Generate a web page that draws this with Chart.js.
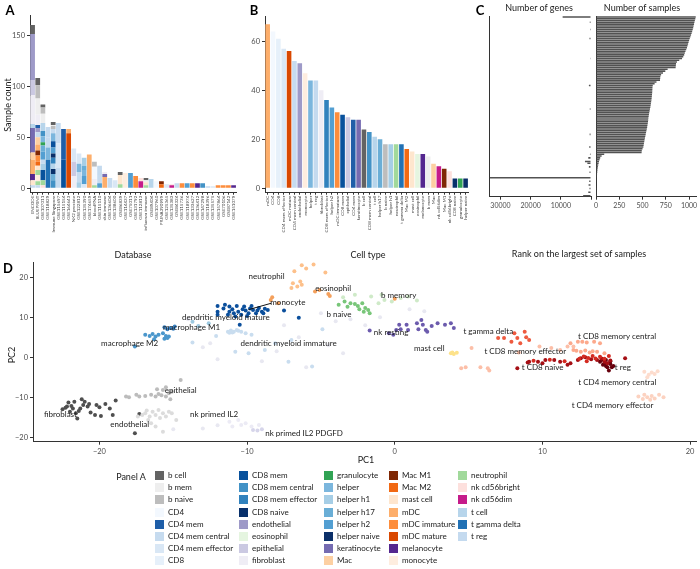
<!DOCTYPE html>
<html>
<head>
<meta charset="utf-8">
<script src="https://cdn.jsdelivr.net/npm/chart.js@4.4.1/dist/chart.umd.min.js"></script>
<style>
  body { margin:0; background:#fff; font-family: Lato, "Open Sans", sans-serif; }
  #page { position:relative; width:700px; height:569px; overflow:hidden; }
  .box { position:absolute; }
  .txt { position:absolute; white-space:nowrap; color:#1a1a1a; font-size:9px; transform:translate(-50%,-50%); }
  .tag { font-weight:bold; font-size:13px; color:#000; }
  .rot { transform:translate(-50%,-50%) rotate(-90deg); }
  .sw { position:absolute; width:9px; height:9px; }
  .lg { position:absolute; font-size:8px; line-height:9px; color:#1a1a1a; white-space:nowrap; }
</style>
</head>
<body>
<div id="page">
  <div class="box" style="left:0;top:0;width:240px;height:262px"><canvas id="cA"></canvas></div>
  <div class="box" style="left:240px;top:0;width:232px;height:262px"><canvas id="cB"></canvas></div>
  <div class="box" style="left:460px;top:0;width:133px;height:262px"><canvas id="cC1"></canvas></div>
  <div class="box" style="left:592px;top:0;width:108px;height:262px"><canvas id="cC2"></canvas></div>
  <div class="box" style="left:0;top:255px;width:700px;height:214px"><canvas id="cD"></canvas></div>

  <div class="txt tag" style="left:10px;top:10px">A</div>
  <div class="txt tag" style="left:254px;top:10px">B</div>
  <div class="txt tag" style="left:480px;top:10px">C</div>
  <div class="txt tag" style="left:8px;top:268px">D</div>

  <div class="txt rot" style="left:7px;top:105px">Sample count</div>
  <div class="txt" style="left:133px;top:254px">Database</div>
  <div class="txt" style="left:368px;top:254px">Cell type</div>
  <div class="txt" style="left:539px;top:7px">Number of genes</div>
  <div class="txt" style="left:642px;top:7px">Number of samples</div>
  <div class="txt" style="left:579px;top:253px">Rank on the largest set of samples</div>
  <div class="txt" style="left:366px;top:459px">PC1</div>
  <div class="txt rot" style="left:11px;top:355px">PC2</div>
  <div class="txt" style="left:131px;top:476px">Panel A</div>
  <div id="legend"></div>
</div>

<script>
// cell types (legend order) and their colours
const cellTypes = ['b cell','b mem','b naive','CD4','CD4 mem','CD4 mem central','CD4 mem effector','CD8',
  'CD8 mem','CD8 mem central','CD8 mem effector','CD8 naive','endothelial','eosinophil','epithelial','fibroblast',
  'granulocyte','helper','helper h1','helper h17','helper h2','helper naive','keratinocyte','Mac',
  'Mac M1','Mac M2','mast cell','mDC','mDC immature','mDC mature','melanocyte','monocyte',
  'neutrophil','nk cd56bright','nk cd56dim','t cell','t gamma delta','t reg'];
const cellColors = ['#636363','#eeeeee','#bdbdbd','#f3f8fe','#1f5ea8','#c6dbef','#d9e7f5','#e6f0fa',
  '#08519c','#4292c6','#3182bd','#08306b','#9e9ac8','#e5f5e0','#cbc9e2','#efedf5',
  '#31a354','#7bb6dd','#a6cee6','#6aaed6','#539fd2','#0b2f69','#756bb1','#fdd0a2',
  '#7f2704','#f16913','#fee6ce','#fdae6b','#fd8d3c','#d94801','#54278f','#feeddf',
  '#a1d99b','#fde0dd','#c51b8a','#b7d5eb','#2171b5','#c4daef'];

// panel A : samples per database, stacked by cell type (bottom -> top)
const dbNames = ['ENCODE','BLUEPRINT','GSE107011','GSE118829','Immune Singapore','GSE115697','GSE115154','GSE164643',
  'NK2 prostate','GSE122812','GSE135390','GSE174659','bloodRNA','GSE115110','skin immune','GSE136604',
  'GSE138600','GSE86839','GSE114437','GSE75011','GSE131792','GSE112813','influenza immune','GSE89404',
  'GSE107960','PRJNA390999','GSE125365','GSE135383','GSE84324','GSE115736','GSE118974','GSE133627',
  'GSE136412','GSE147298','GSE118396','GSE135575','GSE157864','GSE70106','GSE87142','GSE151079'];
const dbStacks = [
  [['t reg',3],['mast cell',5],['melanocyte',6],['mDC',14],['Mac',7],['keratinocyte',24],['t cell',4],['fibroblast',28],['epithelial',15],['endothelial',45],['b cell',9]],
  [['t reg',3],['neutrophil',4],['monocyte',6],['neutrophil',5],['mast cell',4],['Mac M2',4],['mDC immature',6],['Mac M1',5],['mDC',6],['Mac',7],['CD4 mem central',5],['endothelial',4],['CD4 mem',3],['fibroblast',10],['b mem',16],['b naive',13],['b cell',7]],
  [['nk cd56bright',3],['neutrophil',5],['CD8 mem',10],['helper h1',6],['CD4 mem central',4],['helper h2',8],['helper h17',6],['granulocyte',3],['helper',6],['CD8 mem central',5],['t cell',8],['b mem',9],['b naive',6],['b cell',3]],
  [['t gamma delta',28],['helper',12],['CD4 mem central',10],['t reg',10]],
  [['CD8 mem central',8],['helper h17',6],['CD8 naive',5],['t cell',5],['CD8 mem effector',6],['helper naive',4],['helper h2',6],['CD8 mem',6],['helper',8],['CD4 mem central',4],['b naive',3],['b mem',1],['b cell',3]],
  [['t reg',20],['CD4 mem effector',24],['CD4 mem central',20]],
  [['CD8 mem',28],['CD4 mem',30]],
  [['mDC mature',54],['mDC',4]],
  [['fibroblast',12],['epithelial',14],['CD4 mem effector',13]],
  [['helper h1',6],['t reg',10],['helper',8],['CD4 mem effector',10]],
  [['CD4 mem effector',4],['helper h2',8],['helper',6],['helper h17',4],['helper h1',8]],
  [['mDC',33]],
  [['neutrophil',3],['fibroblast',6],['CD4',12],['b naive',5]],
  [['helper h2',5],['CD4 mem central',8],['t reg',9]],
  [['mDC',11],['keratinocyte',3],['fibroblast',2]],
  [['CD4 mem central',10]],
  [['CD4 mem effector',8]],
  [['neutrophil',4],['mast cell',9],['b cell',3]],
  [['monocyte',15]],
  [['helper h2',15]],
  [['mDC immature',12]],
  [['nk cd56dim',7],['nk cd56bright',3]],
  [['neutrophil',3],['mast cell',3],['b mem',2],['b cell',2]],
  [['t cell',9]],
  [['CD4',7]],
  [['Mac M2',4],['Mac M1',3]],
  [['CD4 mem effector',4]],
  [['nk cd56dim',3],['nk cd56bright',1]],
  [['CD4 mem central',5]],
  [['mDC immature',5]],
  [['helper h2',5]],
  [['mDC immature',5]],
  [['melanocyte',5]],
  [['CD8 mem central',5]],
  [['t reg',2]],
  [['CD4 mem effector',2]],
  [['mDC immature',3]],
  [['mDC immature',3]],
  [['mDC immature',3]],
  [['melanocyte',3]]
];
const aTicks = [0, 50, 100, 150];

// panel B : samples per cell type
const bTypes = ['mDC','CD4','CD8','CD4 mem effector','mDC mature','CD4 mem central','endothelial','monocyte',
  'helper','t reg','fibroblast','CD8 mem effector','helper h2','mDC immature','CD8 mem','epithelial',
  'CD4 mem','keratinocyte','b cell','CD8 mem central','t cell','helper h17','b naive','helper h1',
  'neutrophil','t gamma delta','Mac M2','mast cell','eosinophil','melanocyte','b mem','Mac',
  'nk cd56dim','Mac M1','nk cd56bright','CD8 naive','granulocyte','helper naive'];
const bCounts = [67,64,61,57,56,52,51,47, 44,44,40,36,33,31,30,29, 28,28,24,23,21,20,18,18, 18,18,16,15,14,14,13,10, 9,8,7,4,4,4];
const bTicks = [0, 20, 40, 60];

// panel C : genes / samples by rank
const sampleCounts = [1072,1068,1063,1058,1054,1049,1045,1040,1034,1028,
  1022,1015,1008,1001,995,990,984,978,970,962,
  955,948,938,925,895,870,860,858,856,770,
  745,720,700,692,690,688,650,630,610,607,
  606,605,604,602,600,598,596,593,590,587,
  584,580,576,572,569,566,563,561,559,556,
  553,550,546,542,538,534,530,526,522,519,
  515,512,509,500,492,490,88,60,45,38,
  32,28,24,20,17,15,13,11,10,8,
  7,6,5,5,4,3,3,2,2,1];
const geneCounts = [9400,0,0,400,0,0,0,300,0,0,
  0,0,500,0,0,0,0,0,0,0,
  0,0,0,250,0,0,0,0,0,0,
  0,0,0,0,0,0,0,0,700,0,
  0,0,0,0,0,0,0,0,0,0,
  0,400,0,0,0,0,0,0,0,0,
  0,0,0,0,0,450,0,0,0,0,
  0,0,600,0,0,0,350,0,900,0,
  2000,1200,0,700,0,0,500,0,0,33500,
  0,600,0,800,0,500,0,900,0,2600];
const geneTicks = [0, 10000, 20000, 30000];
const sampleTicks = [0, 250, 500, 750, 1000];

// panel D : PCA coordinates [PC1, PC2]
const ptsOther = [[-13,2.5],[-12,-0.5],[-9,-1],[-8,1.5],[-6,-2.5],[-4.5,3],[-3,9.5],[-2,8],[-5,11],[-4,9],[-14,9.5],
  [-15,-18],[-13,-17.8],[-12,-17],[1,12],[2,11.5],[-1,10],[-6.5,5],[-3.5,1],[-12.5,3.5],[-7.5,8]];
const ptsNkIL2 = [[-11.2,-16.1],[-10.6,-15.7],[-10.1,-16.5],[-9.7,-17.3],[-9.2,-16.9],[-11.0,-17.3],[-10.4,-16.9]];
const ptsNkIL2Pdgfd = [[-9.6,-18.2],[-9.0,-18.0],[-9.3,-18.3]];
const ptsEndothelial = [[-17.4,-14.8],[-17.1,-14.4],[-16.9,-14.0],[-16.6,-14.8],[-16.4,-13.6],[-16.2,-14.4],[-16.0,-13.2],[-15.7,-14.0],
  [-15.5,-14.8],[-15.3,-13.6],[-15.1,-14.0],[-14.8,-15.7],[-15.7,-18.6],[-16.5,-16.5],[-16.7,-15.7],[-16.2,-17.3],[-15.9,-15.2],[-16.8,-13.3]];
const ptsEpithelial = [[-18.2,-9.8],[-18.0,-10.0],[-17.5,-9.4],[-17.3,-9.8],[-16.9,-9.7],[-16.5,-9.4],[-16.2,-9.8],[-16.0,-9.2],[-15.7,-8.2],
  [-15.5,-9.8],[-15.3,-9.0],[-15.1,-8.6],[-14.5,-5.7],[-15.5,-7.5],[-16.1,-8.0],[-15.2,-10.5],[-15.8,-9.5]];
const ptsFibroblast = [[-22.5,-13.0],[-22.2,-12.3],[-22.1,-11.3],[-21.9,-12.2],[-21.8,-12.8],[-21.7,-11.1],[-21.6,-14.0],[-21.5,-15.3],
  [-21.3,-12.8],[-21.2,-10.5],[-21.0,-11.1],[-20.7,-11.7],[-20.6,-13.8],[-20.3,-14.4],[-20.2,-11.9],[-20.0,-12.5],[-19.9,-14.7],
  [-19.6,-11.7],[-19.3,-12.8],[-19.1,-14.4],[-18.9,-10.8],[-22.0,-13.6],[-21.1,-11.9],[-20.8,-12.3],[-17.6,-19.0],[-17.3,-14.2],
  [-22.3,-12.6],[-21.4,-13.4]];
const ptsDcImmature = [[-11.3,6.4],[-11.1,6.7],[-10.9,6.4],[-10.7,6.8],[-10.4,6.4],[-11.0,6.2],[-10.1,6.0],[-9.7,5.6],[-12.1,5.3],
  [-13.7,3.7],[-10.8,1.4],[-9.9,1.0],[-8.8,1.8],[-7.2,-1.1],[-5.6,-2.3],[-4.9,7.0],[-8.1,3.5],[-7.0,4.3],[-10.6,6.6],[-11.2,6.1]];
const ptsDcMature = [[-13.7,8.9],[-13.3,7.8],[-12.6,8.5]];
const ptsMacM1 = [[-15.6,7.5],[-15.4,7.0],[-15.2,7.3],[-14.9,7.7],[-15.0,7.1]];
const ptsMacM2 = [[-16.9,5.6],[-16.6,5.3],[-16.4,5.8],[-16.2,5.2],[-16.0,5.6],[-15.7,6.0],[-15.5,5.3],[-15.4,4.8],[-15.3,5.2],
  [-17.6,2.7],[-16.3,4.5],[-15.6,4.6]];
const ptsMonocyte = [[-12.0,12.8],[-12.0,11.4],[-12.0,10.6],[-11.5,13.1],[-11.2,12.7],[-11.2,11.4],[-11.0,12.0],[-10.9,11.0],
  [-10.7,12.8],[-10.6,11.4],[-10.4,10.6],[-10.2,12.7],[-10.1,11.7],[-9.9,11.0],[-9.7,12.8],[-9.6,11.8],[-9.4,11.0],[-9.2,12.3],
  [-9.0,11.4],[-8.9,11.0],[-8.8,12.1],[-8.6,11.8],[-7.5,11.7],[-6.5,9.9],[-10.5,8.1],[-10.8,10.2],[-11.3,10.6],[-10.0,10.3],
  [-9.3,11.7],[-10.3,12.0],[-11.6,12.2],[-9.8,12.2]];
const ptsNeutrophil = [[-6.9,18.5],[-6.6,17.7],[-6.4,18.9],[-6.3,18.1],[-7.0,17.3],[-6.3,23.0],[-6.0,22.2],[-5.5,23.2],[-4.7,21.2],[-6.8,21.5]];
const ptsEosinophil = [[-5.4,16.4],[-5.1,16.8],[-4.5,15.8],[-4.4,15.3],[-8.3,15.0],[-8.4,14.3],[-7.9,13.5],[0.0,14.6]];
const ptsBMemory = [[-1.6,15.2],[-1.1,13.5],[-0.7,14.3],[-0.2,13.9],[0.4,14.8],[0.9,15.2],[-2.7,15.6],[-0.9,15.6],[-3.5,15.0],[1.5,14.2]];
const ptsBNaive = [[-3.4,13.9],[-3.0,13.5],[-2.7,13.3],[-2.5,12.8],[-2.2,13.5],[-2.0,12.3],[-1.8,11.8],[-1.7,11.0],[-2.1,11.4],
  [-3.8,13.1],[-2.4,12.0],[-3.2,12.6]];
const ptsNkResting = [[-1.7,6.7],[-0.4,6.0],[-0.1,5.6],[0.3,8.1],[0.4,7.0],[0.8,8.1],[0.9,6.8],[1.5,8.5],[1.8,9.3],[1.9,8.1],
  [1.6,7.0],[2.1,6.8],[2.2,6.4],[2.5,7.8],[2.9,8.5],[3.4,8.1],[3.8,8.5],[4.0,7.3],[0.1,6.8]];
const ptsMastCell = [[3.8,1.0],[4.0,0.8],[4.2,1.1],[3.9,1.2]];
const ptsCD4MemCentral = [[16.9,-3.6],[17.2,-4.4],[17.4,-3.8],[17.6,-4.2],[17.1,-5.0],[17.8,-3.5]];
const ptsCD4MemEffector = [[16.5,-9.8],[16.9,-9.4],[17.1,-10.0],[17.4,-9.7],[17.6,-10.3],[17.9,-9.4],[18.2,-10.0],[17.3,-10.6],[16.8,-10.4]];
const ptsCD8MemEffector = [[9.8,2.7],[10.6,2.3],[11.2,1.8],[11.7,2.7],[12.1,2.7],[5.2,2.3],[8.4,1.2],[4.5,-2.75],[4.8,-2.5],[5.8,-2.5],[6.3,-2.75],[6.4,-3.3]];
const ptsCD8MemCentral = [[11.9,3.5],[12.4,3.9],[12.7,3.9],[13.0,3.7],[13.5,3.9],[13.9,3.5],[12.1,1.8],[12.6,1.4],[12.9,1.7],
  [13.2,1.2],[13.7,1.4],[14.2,1.0],[12.3,1.6],[13.4,1.5]];
const ptsTGammaDelta = [[7.0,4.8],[7.4,4.8],[8.1,6.0],[8.3,4.8],[8.8,6.4],[8.9,5.0],[9.1,4.3],[8.5,3.5],[7.9,3.9]];
const ptsTCell = [[12.8,0.2],[13.1,-0.2],[13.4,0.3],[13.6,-0.3],[13.9,0.1],[12.5,-0.4],[11.5,-1.0],[10.5,-0.6],[9.4,-0.9],[14.2,-0.4],[13.0,-1.0],[14.5,0.3]];
const ptsCD8Naive = [[8.3,-2.75],[9.0,-1.3],[9.1,-1.1],[9.7,-1.1],[10.0,-1.5],[10.2,-0.7],[10.8,-0.7],[11.2,-1.1],[11.7,-1.9],
  [11.9,-1.5],[12.4,-0.7],[12.6,-0.25],[12.9,0],[13.3,-0.5],[13.7,-0.7],[14.0,-0.3],[14.2,-1.1],[14.4,-1.5],[14.6,-0.8],[15.6,-0.25]];
const ptsTReg = [[13.9,-1.1],[14.2,-1.5],[14.3,-2.2],[14.4,-2.5],[14.6,-1.7],[14.7,-2.5],[14.5,-3.3],[14.8,-2.2],[14.0,-0.7],[14.3,-0.7],[14.1,-1.9],[14.6,-1.0]];
const pcTicks = [-20, -10, 0, 10, 20];

// label text, anchor [PC1, PC2], optional pointer end
const pcaLabels = [
  ['neutrophil',-9.9,20.1],['eosinophil',-5.39,17.1],['monocyte',-8.43,13.75,-9.9,11.9],['b naive',-4.63,10.6],
  ['dendritic myeloid mature',-14.41,9.9],['macrophage M1',-15.69,7.5],['macrophage M2',-19.89,3.5],
  ['dendritic myeloid immature',-10.45,3.5],['epithelial',-15.58,-8.2],['fibroblast',-23.76,-14.4],
  ['endothelial',-19.26,-16.75],['nk primed IL2',-13.87,-14.4],['nk primed IL2 PDGFD',-8.77,-19.0],
  ['b memory',-0.94,15.4],['nk resting',-1.42,6.25],['t gamma delta',4.65,6.4],['mast cell',1.3,2.25],
  ['t CD8 memory central',12.41,5.3],['t CD8 memory effector',6.07,1.4],['t CD8 naive',8.6,-2.6],
  ['t reg',14.9,-2.5],['t CD4 memory central',12.43,-6.35],['t CD4 memory effector',11.98,-12.0]
];

const pcaGroups = [
  [ptsOther,'#e8e8f1'],[ptsNkIL2,'#ecebf5'],[ptsNkIL2Pdgfd,'#d6d5ea'],[ptsEndothelial,'#dcdcdc'],[ptsEpithelial,'#bcbcbc'],
  [ptsFibroblast,'#4f4f4f'],[ptsDcImmature,'#c9ddef'],[ptsDcMature,'#9ecae1'],[ptsMacM1,'#3a82c2'],[ptsMacM2,'#4b97cc'],
  [ptsMonocyte,'#0b4f9c'],[ptsNeutrophil,'#fdc08a'],[ptsEosinophil,'#f4a05c'],[ptsBMemory,'#cfeac8'],[ptsBNaive,'#78c679'],
  [ptsNkResting,'#6c5bad'],[ptsMastCell,'#fde28a'],[ptsCD4MemCentral,'#fddccd'],[ptsCD4MemEffector,'#fcd2c0'],
  [ptsCD8MemEffector,'#fcbfa8'],[ptsCD8MemCentral,'#fca98c'],[ptsTGammaDelta,'#ee5a3f'],[ptsTCell,'#d42a20'],
  [ptsCD8Naive,'#a50f15'],[ptsTReg,'#67000d']
];

const FONT = 'Lato, "Open Sans", sans-serif';
Chart.defaults.font.family = FONT;
Chart.defaults.color = '#4d4d4d';
Chart.defaults.animation = false;
Chart.defaults.plugins.legend.display = false;
Chart.defaults.plugins.tooltip.enabled = false;

const colorOf = {};
cellTypes.forEach((c, i) => { colorOf[c] = cellColors[i]; });

const ink = '#333';
const fixW = w => s => { s.width = w; };
const fixH = h => s => { s.height = h; };
const setTicks = arr => s => { s.ticks = arr.map(v => ({ value: v })); };
const minus = v => (v < 0 ? '\u2212' + Math.abs(v) : String(v));
const gridTicks = len => ({ display: true, drawOnChartArea: false, offset: false, tickLength: len, color: ink });

// ---- panel A
const maxSeg = Math.max(...dbStacks.map(s => s.length));
const aSets = [];
for (let k = 0; k < maxSeg; k++) {
  aSets.push({
    data: dbStacks.map(s => (s[k] ? s[k][1] : 0)),
    backgroundColor: dbStacks.map(s => (s[k] ? colorOf[s[k][0]] : 'rgba(0,0,0,0)')),
    borderWidth: 0, barPercentage: 0.92, categoryPercentage: 1
  });
}
new Chart(document.getElementById('cA'), {
  type: 'bar',
  data: { labels: dbNames, datasets: aSets },
  options: {
    responsive: true, maintainAspectRatio: false,
    layout: { padding: { top: 15.7, right: 3, left: 0, bottom: 0 } },
    scales: {
      x: { stacked: true, grid: gridTicks(2), border: { color: ink },
        ticks: { autoSkip: false, minRotation: 90, maxRotation: 90, padding: 1, font: { size: 4.5 }, color: '#444' },
        afterFit: fixH(69.3) },
      y: { stacked: true, min: -4.3, max: 169, afterBuildTicks: setTicks(aTicks),
        grid: gridTicks(3), border: { color: ink }, ticks: { font: { size: 7.5 }, padding: 2 },
        afterFit: fixW(30) }
    }
  }
});

// ---- panel B
new Chart(document.getElementById('cB'), {
  type: 'bar',
  data: { labels: bTypes, datasets: [{ data: bCounts, backgroundColor: bTypes.map(c => colorOf[c]),
    borderWidth: 0, barPercentage: 0.86, categoryPercentage: 1 }] },
  options: {
    responsive: true, maintainAspectRatio: false,
    layout: { padding: { top: 16.8, right: 0, left: 0, bottom: 0 } },
    scales: {
      x: { grid: gridTicks(2), border: { color: ink },
        ticks: { autoSkip: false, minRotation: 90, maxRotation: 90, padding: 1, font: { size: 4.5 }, color: '#444' },
        afterFit: fixH(69.3) },
      y: { min: -1.8, max: 70, afterBuildTicks: setTicks(bTicks),
        grid: gridTicks(3), border: { color: ink }, ticks: { font: { size: 7.5 }, padding: 2 },
        afterFit: fixW(25) }
    }
  }
});

// ---- panel C
const ranks = sampleCounts.map((_, i) => i + 1);
function rankChart(id, values, opts) {
  return new Chart(document.getElementById(id), {
    type: 'bar',
    data: { labels: ranks, datasets: [{ data: values, backgroundColor: '#525252', borderWidth: 0,
      barPercentage: 0.86, categoryPercentage: 1 }] },
    options: {
      indexAxis: 'y', responsive: true, maintainAspectRatio: false,
      layout: { padding: { top: 16, right: opts.right, left: 0, bottom: 0 } },
      scales: {
        x: { min: 0, max: opts.max, reverse: opts.reverse, afterBuildTicks: setTicks(opts.ticks),
          grid: gridTicks(3), border: { color: ink },
          ticks: { font: { size: 7 }, padding: 2, callback: opts.fmt },
          afterFit: fixH(65.3) },
        y: { grid: { display: false }, border: { color: ink }, ticks: { display: false },
          afterFit: fixW(opts.yw) }
      }
    }
  });
}
rankChart('cC1', geneCounts, { max: 33700, reverse: true, ticks: geneTicks, right: 2, yw: 29.3,
  fmt: v => (v === 0 ? '' : String(v)) });
rankChart('cC2', sampleCounts, { max: 1075, reverse: false, ticks: sampleTicks, right: 4, yw: 1,
  fmt: v => String(v) });

// ---- panel D
const pcaLabelPlugin = {
  id: 'pcaLabels',
  afterDatasetsDraw(chart) {
    const { ctx, scales: { x, y } } = chart;
    ctx.save();
    ctx.font = '8px ' + FONT;
    ctx.fillStyle = '#1a1a1a';
    ctx.textBaseline = 'middle';
    ctx.textAlign = 'left';
    pcaLabels.forEach(l => {
      const px = x.getPixelForValue(l[1]);
      const py = y.getPixelForValue(l[2]);
      if (l.length > 3) {
        ctx.strokeStyle = '#111';
        ctx.lineWidth = 1;
        ctx.beginPath();
        ctx.moveTo(px + 1, py + 1);
        ctx.lineTo(x.getPixelForValue(l[3]), y.getPixelForValue(l[4]));
        ctx.stroke();
      }
      ctx.fillText(l[0], px, py);
    });
    ctx.restore();
  }
};
new Chart(document.getElementById('cD'), {
  type: 'scatter',
  data: { datasets: pcaGroups.map(g => ({
    data: g[0].map(p => ({ x: p[0], y: p[1] })),
    backgroundColor: g[1], pointRadius: 2, borderWidth: 0
  })) },
  options: {
    responsive: true, maintainAspectRatio: false,
    layout: { padding: { top: 7, right: 0, left: 0, bottom: 0 } },
    scales: {
      x: { type: 'linear', min: -24.5, max: 20.4, afterBuildTicks: setTicks(pcTicks),
        grid: gridTicks(3), border: { color: ink }, ticks: { font: { size: 7.5 }, padding: 2, callback: minus },
        afterFit: fixH(27.3) },
      y: { min: -21.1, max: 23.8, afterBuildTicks: setTicks(pcTicks),
        grid: gridTicks(3), border: { color: ink }, ticks: { font: { size: 7.5 }, padding: 2, callback: minus },
        afterFit: fixW(33) }
    }
  },
  plugins: [pcaLabelPlugin]
});

// ---- legend (panel A colours)
const legend = document.getElementById('legend');
const colX = [155, 239, 324, 389, 458];
cellTypes.forEach((name, i) => {
  const col = Math.floor(i / 8), row = i % 8;
  const top = 471 + row * 12.2;
  const sw = document.createElement('div');
  sw.className = 'sw';
  sw.style.left = colX[col] + 'px';
  sw.style.top = top + 'px';
  sw.style.background = cellColors[i];
  legend.appendChild(sw);
  const tx = document.createElement('div');
  tx.className = 'lg';
  tx.style.left = (colX[col] + 13) + 'px';
  tx.style.top = top + 'px';
  tx.textContent = name;
  legend.appendChild(tx);
});
</script>
</body>
</html>
